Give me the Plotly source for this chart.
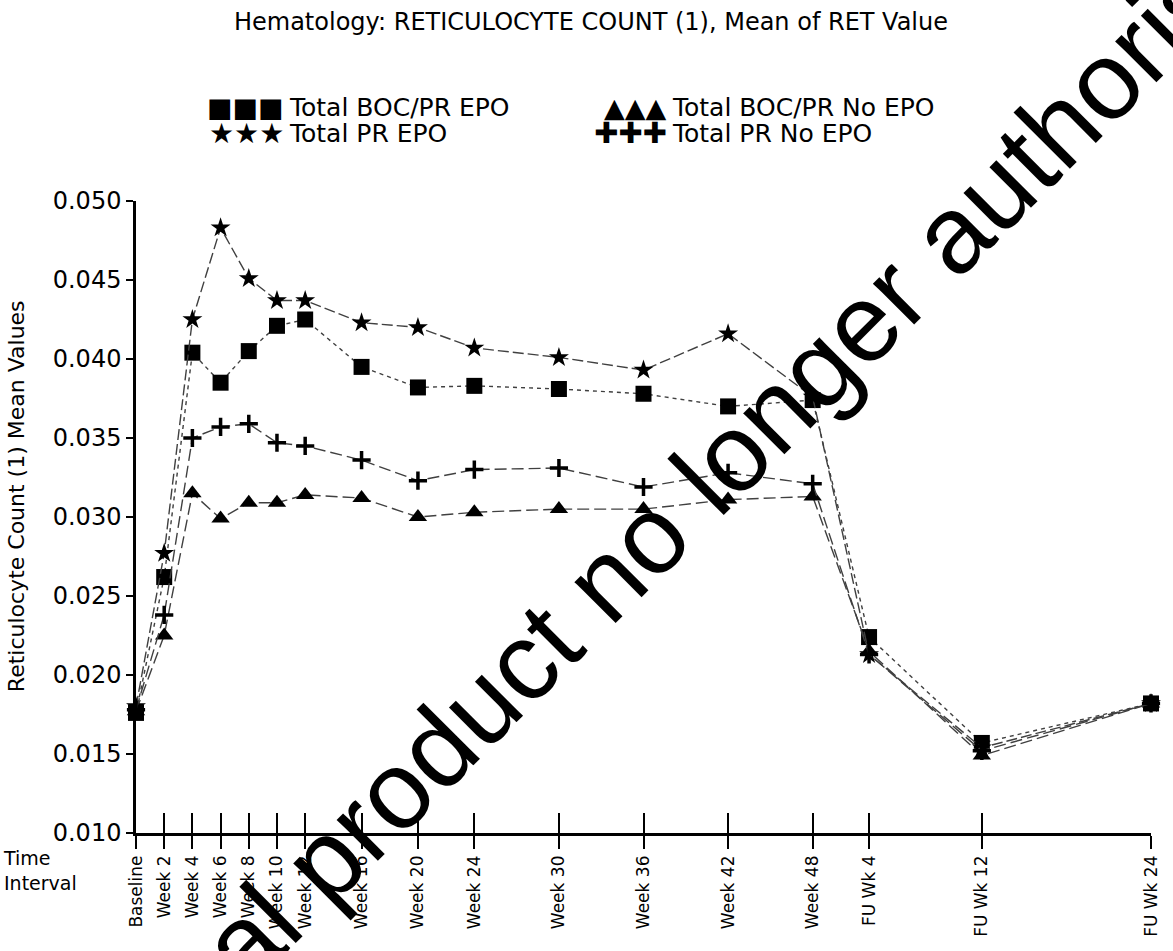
import plotly.graph_objects as go

# ---------------- data ----------------
time_labels = ["Baseline", "Week 2", "Week 4", "Week 6", "Week 8", "Week 10", "Week 12",
               "Week 16", "Week 20", "Week 24", "Week 30", "Week 36", "Week 42", "Week 48",
               "FU Wk 4", "FU Wk 12", "FU Wk 24"]
time_weeks = [0, 2, 4, 6, 8, 10, 12, 16, 20, 24, 30, 36, 42, 48, 52, 60, 72]

total_boc_pr_epo = [0.0176, 0.0262, 0.0404, 0.0385, 0.0405, 0.0421, 0.0425, 0.0395, 0.0382,
                    0.0383, 0.0381, 0.0378, 0.0370, 0.0374, 0.0224, 0.0157, 0.0182]
total_boc_pr_no_epo = [0.0177, 0.0225, 0.0315, 0.0299, 0.0309, 0.0309, 0.0314, 0.0312, 0.0300,
                       0.0303, 0.0305, 0.0305, 0.0311, 0.0313, 0.0215, 0.0149, 0.0182]
total_pr_epo = [0.0180, 0.0277, 0.0425, 0.0483, 0.0451, 0.0437, 0.0437, 0.0423, 0.0420,
                0.0407, 0.0401, 0.0393, 0.0416, 0.0376, 0.0213, 0.0154, 0.0182]
total_pr_no_epo = [0.0178, 0.0238, 0.0350, 0.0357, 0.0359, 0.0347, 0.0345, 0.0336, 0.0323,
                   0.0330, 0.0331, 0.0319, 0.0328, 0.0321, 0.0213, 0.0152, 0.0182]

y_ticks = [0.010, 0.015, 0.020, 0.025, 0.030, 0.035, 0.040, 0.045, 0.050]

series = [
    ("Total BOC/PR EPO", total_boc_pr_epo, "square", 16, "4px,4px"),
    ("Total BOC/PR No EPO", total_boc_pr_no_epo, "triangle-up", 16, "12px,5px"),
    ("Total PR EPO", total_pr_epo, "star", 15, "11px,4px"),
    ("Total PR No EPO", total_pr_no_epo, "cross-thin", 13, "12px,5px"),
]

FONT = "DejaVu Sans"
W, H = 1173, 951
L, R, T, B = 136, 17, 201, 118

fig = go.Figure()
for name, vals, sym, size, dash in series:
    marker = dict(symbol=sym, size=size, color="black")
    if sym == "cross-thin":
        marker["line"] = dict(color="black", width=3.5)
    fig.add_trace(go.Scatter(
        x=time_weeks, y=vals, mode="lines+markers", name=name,
        line=dict(color="#404040", width=1.4, dash=dash),
        marker=marker, cliponaxis=False, showlegend=False, hoverinfo="skip"))

# invisible trace on overlay axis to draw crossing tick marks
fig.add_trace(go.Scatter(x=time_weeks, y=[None] * len(time_weeks), xaxis="x2",
                         mode="markers", showlegend=False, hoverinfo="skip"))

def px_x(p):
    return (p - L) / (W - L - R)

def px_y(p):
    return (H - B - p) / (H - T - B)

annotations = []
# legend
legend_items = [
    ("■■■", "Total BOC/PR EPO", 287, 107, 27),
    ("▲▲▲", "Total BOC/PR No EPO", 672, 107, 27),
    ("★★★", "Total PR EPO", 287, 133, 28),
    ("✚✚✚", "Total PR No EPO", 672, 133, 29),
]
for glyph, text, xs, ys, gsize in legend_items:
    annotations.append(dict(text=glyph, xref="paper", yref="paper", x=px_x(xs), y=px_y(ys),
                            xanchor="right", yanchor="middle", showarrow=False,
                            font=dict(family=FONT, size=gsize, color="black")))
    annotations.append(dict(text=text, xref="paper", yref="paper", x=px_x(xs + 1), y=px_y(ys),
                            xanchor="left", yanchor="middle", showarrow=False,
                            font=dict(family=FONT, size=25, color="black")))
# y title
annotations.append(dict(text="Reticulocyte Count (1) Mean Values", xref="paper", yref="paper",
                        x=px_x(1), y=px_y(496), xanchor="left", yanchor="middle",
                        textangle=-90, showarrow=False,
                        font=dict(family=FONT, size=22, color="black")))
# time interval
annotations.append(dict(text="Time<br>Interval", xref="paper", yref="paper",
                        x=px_x(0), y=px_y(870), xanchor="left", yanchor="middle",
                        align="left", showarrow=False,
                        font=dict(family=FONT, size=19, color="black")))
# watermark
annotations.append(dict(text="Medicinal product no longer authorised", xref="paper", yref="paper",
                        x=px_x(624), y=px_y(562), xanchor="center", yanchor="middle",
                        textangle=-45, showarrow=False,
                        font=dict(family="Liberation Sans", size=110, color="black")))

fig.update_layout(
    width=W, height=H,
    margin=dict(l=L, r=R, t=T, b=B),
    paper_bgcolor="white", plot_bgcolor="white",
    title=dict(text="Hematology: RETICULOCYTE COUNT (1), Mean of RET Value",
               x=591 / W, xanchor="center", y=1 - 22 / H, yanchor="middle",
               yref="container", font=dict(family=FONT, size=24, color="black")),
    xaxis=dict(range=[0, 72], tickmode="array", tickvals=time_weeks, ticktext=time_labels,
               tickangle=-90, ticks="outside", ticklen=13, tickwidth=1.5, tickcolor="black",
               showline=True, linecolor="black", linewidth=2.5, showgrid=False, zeroline=False,
               tickfont=dict(family=FONT, size=17, color="black")),
    xaxis2=dict(range=[0, 72], overlaying="x", anchor="y", side="bottom",
                tickmode="array", tickvals=time_weeks, ticks="inside", ticklen=20,
                tickwidth=1.5, tickcolor="black", showticklabels=False, showline=False,
                showgrid=False, zeroline=False),
    yaxis=dict(range=[0.010, 0.050], tickmode="array", tickvals=y_ticks, tickformat=".3f",
               ticks="outside", ticklen=7, tickwidth=1.5, tickcolor="black",
               showline=True, linecolor="black", linewidth=2.5, showgrid=False, zeroline=False,
               tickfont=dict(family=FONT, size=24, color="black")),
    annotations=annotations,
    hovermode=False,
)

fig.write_html("out.html", config={"displayModeBar": False},
               post_script="document.body.style.margin='0px';document.body.style.overflow='hidden';")
